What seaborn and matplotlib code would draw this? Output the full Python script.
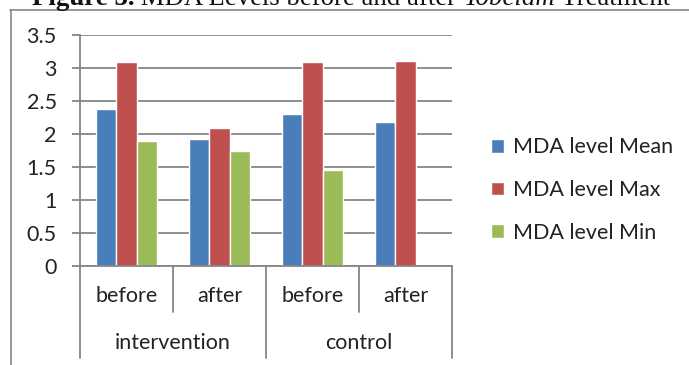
import numpy as np
import pandas as pd
import matplotlib
matplotlib.use("Agg")
import matplotlib.pyplot as plt
from matplotlib.lines import Line2D
from matplotlib.transforms import blended_transform_factory
import seaborn as sns

# ---- data ----
groups = ["intervention", "intervention", "control", "control"]
periods = ["before", "after", "before", "after"]
stats = ["MDA level Mean", "MDA level Max", "MDA level Min"]
mean_vals = [2.38, 1.93, 2.30, 2.18]
max_vals = [3.09, 2.09, 3.09, 3.11]
min_vals = [1.90, 1.75, 1.45, np.nan]
y_ticks = [0, 0.5, 1, 1.5, 2, 2.5, 3, 3.5]
y_tick_labels = ["0", "0.5", "1", "1.5", "2", "2.5", "3", "3.5"]
colors = ["#4A7EBB", "#C0504D", "#9BBB59"]

slots = [f"{g} {p}" for g, p in zip(groups, periods)]
rows = []
for stat, vals in zip(stats, [mean_vals, max_vals, min_vals]):
    for slot, v in zip(slots, vals):
        rows.append({"slot": slot, "stat": stat, "value": v})
df = pd.DataFrame(rows).dropna()

sns.set_style("white")
plt.rcParams["font.family"] = ["Lato", "DejaVu Sans"]
FS = 15.5
GRID = "#868686"

W, H = 689, 365
fig = plt.figure(figsize=(W / 100, H / 100), dpi=100)
ax = fig.add_axes([80 / W, 1 - 266 / H, (452 - 80) / W, (266 - 35) / H])

sns.barplot(data=df, x="slot", y="value", hue="stat", order=slots,
            hue_order=stats, palette=colors, saturation=1, width=0.66,
            errorbar=None, ax=ax, legend=True)

ax.set_xlim(-0.5, 3.5)
ax.set_ylim(0, 3.5)
ax.set_yticks(y_ticks)
ax.set_yticklabels(y_tick_labels, fontsize=FS, color="#222222")
ax.set_xticks([])
ax.set_xlabel("")
ax.set_ylabel("")
ax.yaxis.grid(True, color=GRID, linewidth=1.3)
ax.set_axisbelow(True)
ax.tick_params(axis="y", length=8 * 0.72, width=1.3, color=GRID,
               pad=11, left=True)
for side in ["top", "right"]:
    ax.spines[side].set_visible(False)
for side in ["left", "bottom"]:
    ax.spines[side].set_color(GRID)
    ax.spines[side].set_linewidth(1.3)

# ---- two-level category axis ----
tr = blended_transform_factory(ax.transData, fig.transFigure)
y_axis = 1 - 266 / H
y_short = 1 - 312 / H
y_long = 1 - 358 / H
for xb, y_end in [(-0.5, y_long), (0.5, y_short), (1.5, y_long),
                  (2.5, y_short), (3.5, y_long)]:
    ax.add_line(Line2D([xb, xb], [y_axis, y_end], transform=tr,
                       color=GRID, linewidth=1.3, clip_on=False))
for i, p in enumerate(periods):
    ax.text(i, 1 - 296 / H, p, transform=tr, ha="center", va="center",
            fontsize=FS, color="#222222")
for name, center in [("intervention", 0.5), ("control", 2.5)]:
    ax.text(center, 1 - 343 / H, name, transform=tr, ha="center",
            va="center", fontsize=FS, color="#222222")

# ---- legend ----
handles, labels = ax.get_legend_handles_labels()
ax.legend_.remove()
fig.legend(handles, labels, loc="center left",
           bbox_to_anchor=(472 / W, 1 - 190 / H), frameon=False,
           fontsize=FS, handlelength=0.6, handleheight=0.6,
           handletextpad=0.4, labelspacing=1.05, labelcolor="#222222")

# ---- outer frame ----
fig.add_artist(Line2D([10 / W, 1.0], [1 - 9.5 / H, 1 - 9.5 / H],
                      transform=fig.transFigure, color=GRID, linewidth=1.2))
fig.add_artist(Line2D([10.5 / W, 10.5 / W], [0, 1 - 9.5 / H],
                      transform=fig.transFigure, color=GRID, linewidth=1.2))

# ---- caption (runs off the top edge) ----
fig.canvas.draw()
renderer = fig.canvas.get_renderer()
pieces = [("Figure 3.", "bold", "normal"),
          (" MDA Levels before and after ", "normal", "normal"),
          ("Tobelam", "normal", "italic"),
          (" Treatment", "normal", "normal")]
x_px = 32
for txt, weight, style in pieces:
    t = fig.text(x_px / W, 1 - 5 / H, txt, fontsize=19.4,
                 family="Liberation Serif", weight=weight, style=style,
                 ha="left", va="baseline", color="#111111")
    bb = t.get_window_extent(renderer)
    x_px += bb.width

fig.savefig("out.png", dpi=100)
